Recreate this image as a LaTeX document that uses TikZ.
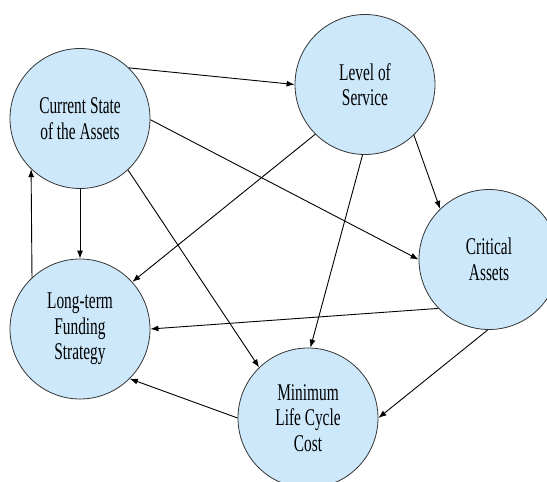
\documentclass[tikz,border=0pt]{standalone}
\usepackage{fontspec}
\newfontfamily\nodefont[FakeStretch=0.64]{Liberation Serif}
\usetikzlibrary{arrows.meta}
\definecolor{bubble}{RGB}{204,232,250}
\begin{document}
\begin{tikzpicture}[x=1pt,y=-1pt,
  topic/.style={circle,draw=black!80,line width=0.8pt,fill=bubble,
    minimum size=140pt,inner sep=0pt,align=center,
    font=\nodefont\fontsize{24}{25.5}\selectfont},
  link/.style={line width=0.9pt,-{Latex[length=8pt,width=6pt]}}]
\useasboundingbox (0,0) rectangle (547,482);

\node[topic] (cur)  at (80,118.5) {Current State\\of the Assets};
\node[topic] (los)  at (365,84.5) {Level of\\Service};
\node[topic] (crit) at (489,259.5) {Critical\\Assets};
\node[topic] (fund) at (80,329)   {Long-term\\Funding\\Strategy};
\node[topic] (mlcc) at (308,418)  {Minimum\\Life Cycle\\Cost};

% links between the five themes
\draw[link] (cur.46)     -- (los.180);
\draw[link] (cur.-1)     -- (crit.180);
\draw[link] (cur.270)    -- (fund.90);
\draw[link] (fund.133.3) -- (cur.226.7);
\draw[link] (cur.-47)    -- (mlcc.134);
\draw[link] (los.225)    -- (fund.42);
\draw[link] (los.268.4)  -- (mlcc.88.4);
\draw[link] (los.-46.5)  -- (crit.134);
\draw[link] (crit.224.7) -- (fund.0);
\draw[link] (crit.269)   -- (mlcc.0);
\draw[link] (mlcc.180)   -- (fund.-45);
\end{tikzpicture}
\end{document}
